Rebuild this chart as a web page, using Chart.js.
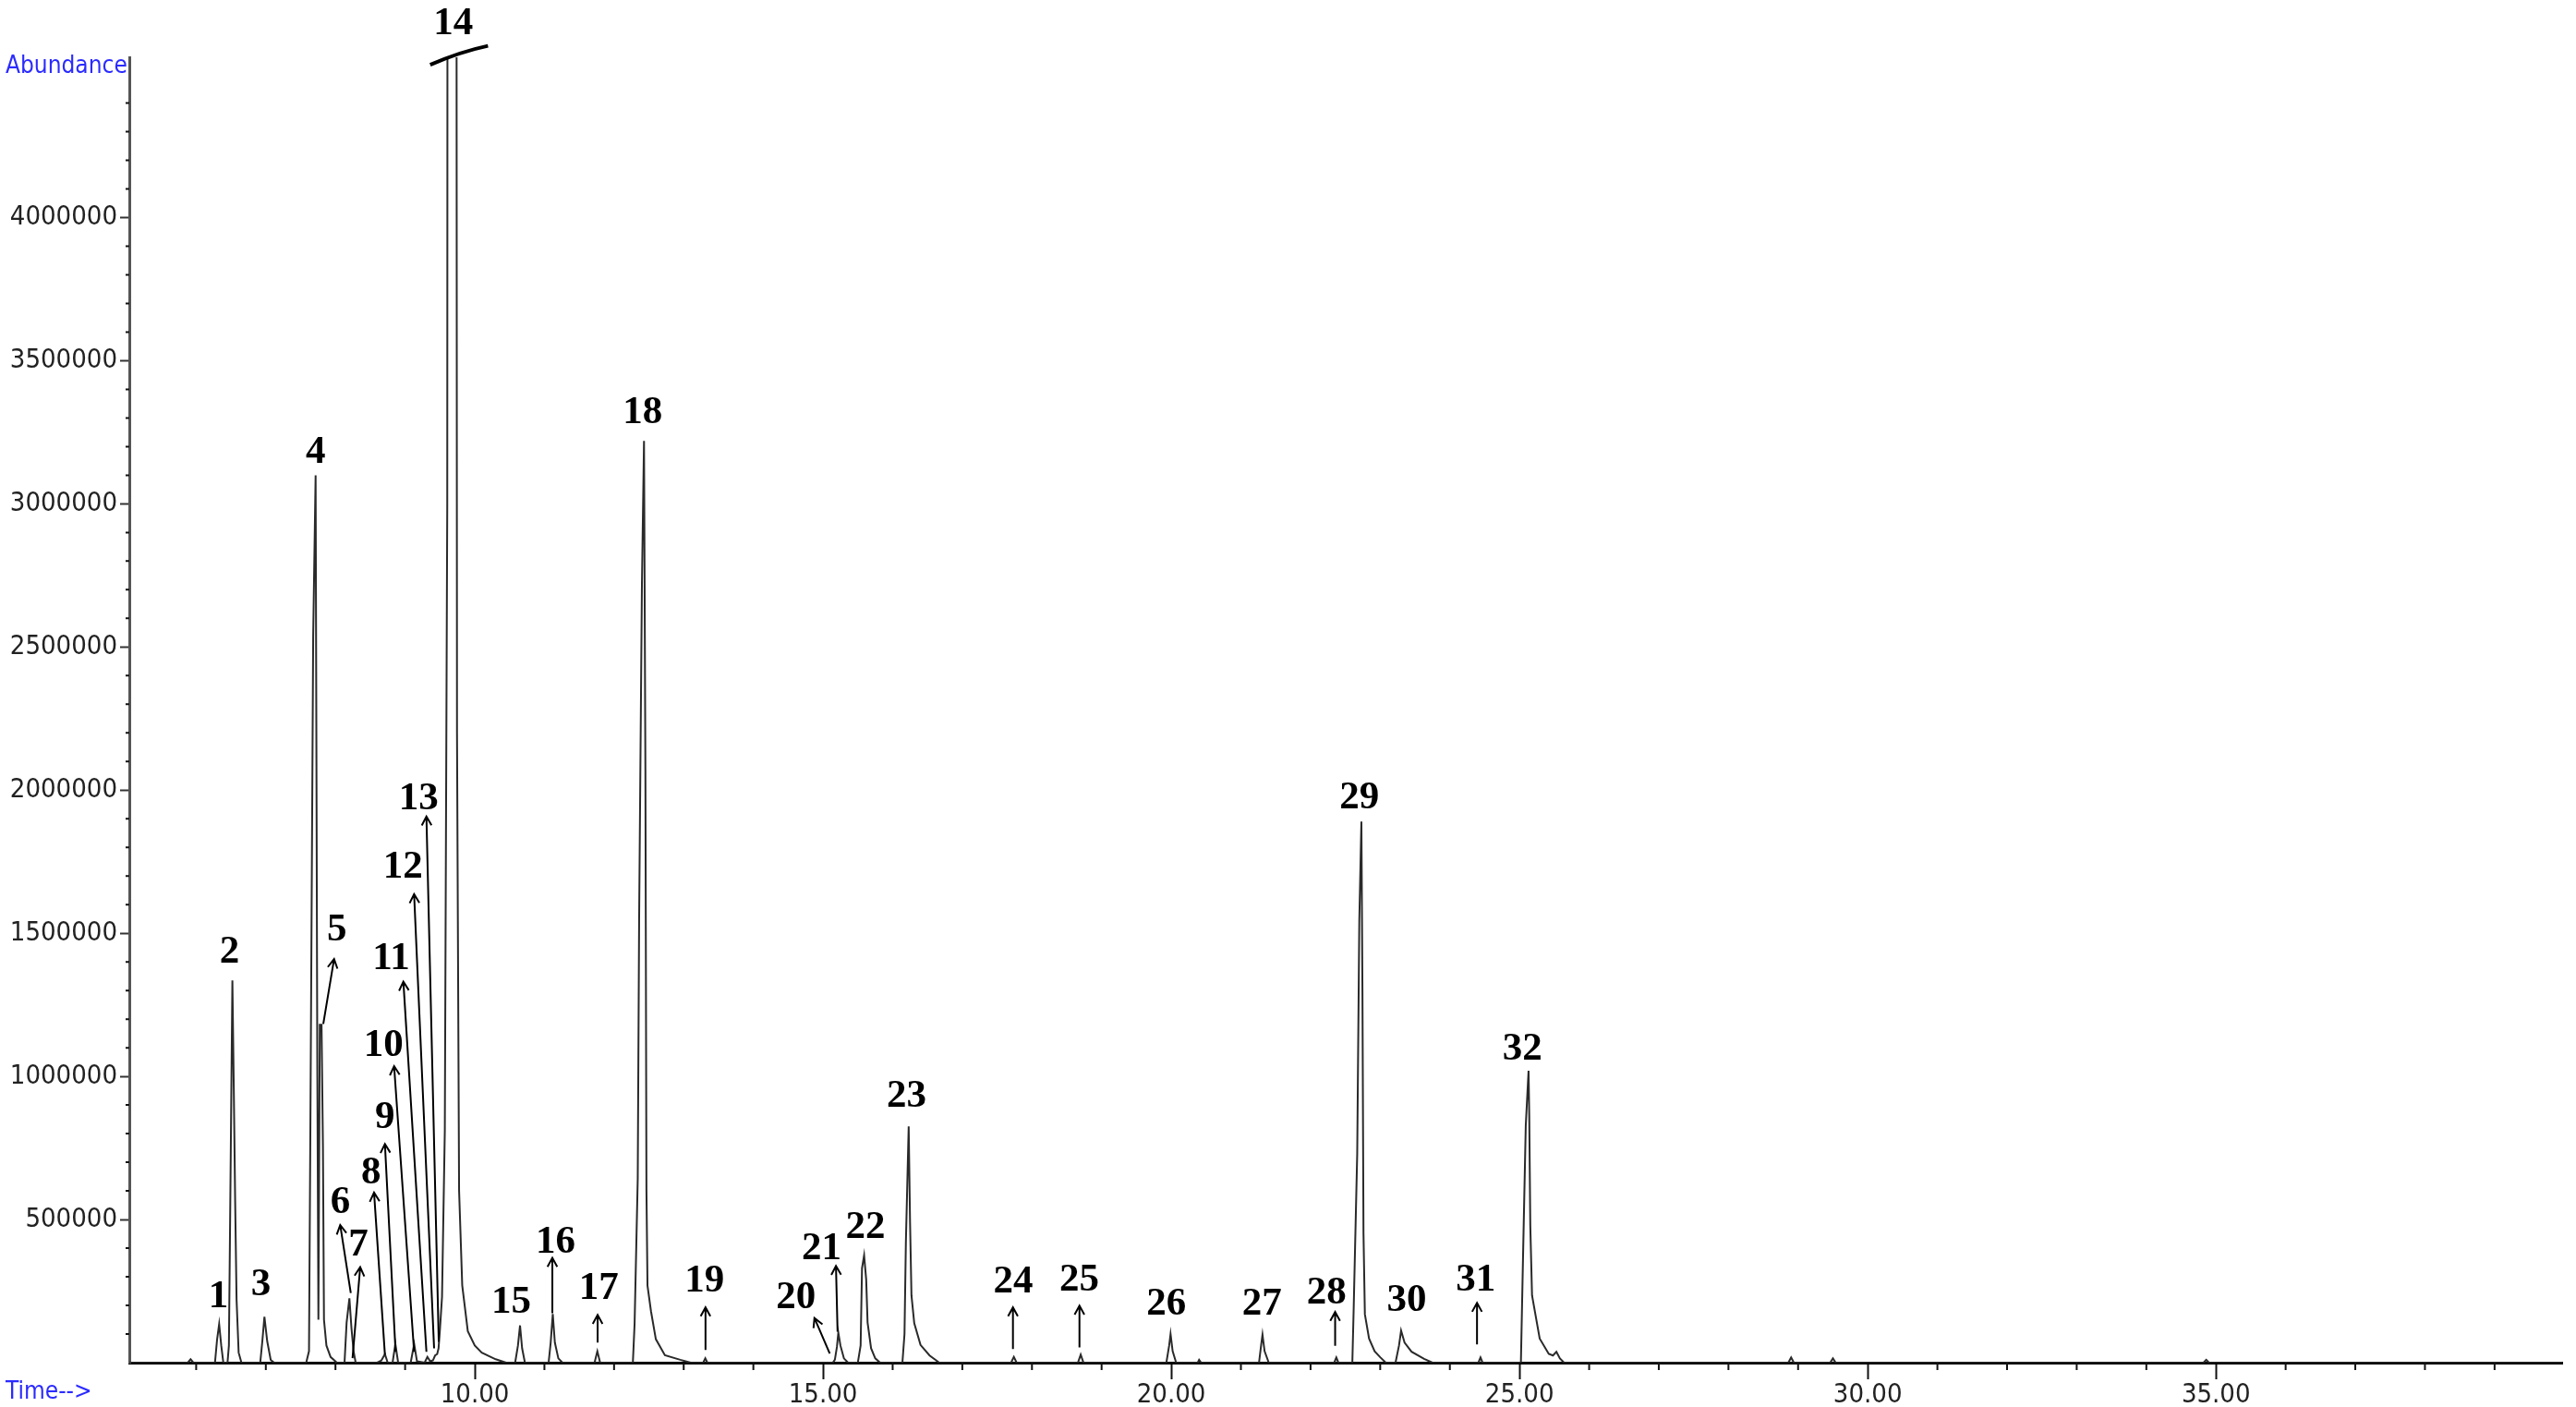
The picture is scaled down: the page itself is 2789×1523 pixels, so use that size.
<!DOCTYPE html>
<html>
<head>
<meta charset="utf-8">
<title>TIC chromatogram</title>
<script src="https://cdn.jsdelivr.net/npm/chart.js@4.4.1/dist/chart.umd.min.js"></script>
<style>
  html, body { margin: 0; padding: 0; background: #fff; }
  canvas { display: block; }
</style>
</head>
<body>
<canvas id="tic" width="2789" height="1523"></canvas>
<script>
const times = [
  5.04, 5.88, 5.92, 5.96,
  6.27, 6.30, 6.33, 6.36, 6.39,
  6.45, 6.47, 6.49, 6.52, 6.54, 6.56, 6.58, 6.61, 6.65,
  6.92, 6.95, 6.98, 7.02, 7.07, 7.12,
  7.58, 7.62, 7.64, 7.68, 7.715, 7.74, 7.755, 7.775, 7.80, 7.82, 7.835, 7.87, 7.93, 8.02,
  8.13, 8.16, 8.20, 8.23, 8.26, 8.29,
  8.60, 8.66, 8.71, 8.75,
  8.82, 8.86, 8.90,
  9.08, 9.13, 9.17,
  9.28, 9.32, 9.36, 9.40, 9.43, 9.46, 9.48, 9.50, 9.53, 9.57, 9.605, 9.62, 9.67, 9.72, 9.745, 9.775, 9.82, 9.90, 10.00, 10.10, 10.30, 10.45,
  10.58, 10.62, 10.65, 10.68, 10.72,
  11.06, 11.09, 11.12, 11.15, 11.20, 11.26,
  11.72, 11.76, 11.80,
  12.27, 12.295, 12.34, 12.36, 12.40, 12.43, 12.45, 12.465, 12.48, 12.53, 12.60, 12.73, 12.95, 13.10,
  13.28, 13.31, 13.34,
  15.14, 15.17, 15.20, 15.22, 15.25, 15.30, 15.36,
  15.50, 15.54, 15.56, 15.59, 15.62, 15.64, 15.69, 15.75, 15.82,
  16.14, 16.17, 16.19, 16.23, 16.25, 16.27, 16.31, 16.40, 16.53, 16.67,
  17.70, 17.74, 17.78,
  18.66, 18.70, 18.74,
  19.93, 19.97, 19.99, 20.02, 20.07,
  20.38, 20.40, 20.43,
  21.26, 21.29, 21.31, 21.34, 21.40,
  22.34, 22.37, 22.40,
  22.60, 22.62, 22.67, 22.70, 22.73, 22.745, 22.76, 22.78, 22.84, 22.92, 23.00, 23.08,
  23.22, 23.27, 23.30, 23.35, 23.45, 23.63, 23.75,
  24.41, 24.44, 24.47,
  25.02, 25.05, 25.09, 25.13, 25.14, 25.155, 25.18, 25.29, 25.42, 25.48, 25.53, 25.58, 25.64,
  28.86, 28.90, 28.94,
  29.46, 29.50, 29.54,
  34.82, 34.86, 34.90,
  39.97
];
const abundance = [
  0, 0, 12000, 0,
  0, 80000, 135000, 60000, 0,
  0, 60000, 560000, 1335000, 960000, 560000, 220000, 35000, 0,
  0, 75000, 160000, 75000, 10000, 0,
  0, 40000, 830000, 2540000, 3100000, 1000000, 150000, 1180000, 1180000, 760000, 150000, 60000, 20000, 0,
  0, 140000, 225000, 120000, 40000, 0,
  0, 8000, 30000, 0,
  0, 65000, 0,
  0, 65000, 5000,
  0, 20000, 5000, 8000, 25000, 30000, 50000, 116000, 230000, 810000, 3000000, 12000000, 14000000, 12000000, 2200000, 600000, 270000, 110000, 60000, 35000, 12000, 0,
  0, 60000, 130000, 50000, 0,
  0, 70000, 170000, 70000, 15000, 0,
  0, 40000, 0,
  0, 137000, 643000, 1557000, 2720000, 3220000, 2070000, 600000, 269000, 180000, 82000, 26000, 10000, 0,
  0, 15000, 0,
  0, 10000, 55000, 105000, 60000, 15000, 0,
  0, 60000, 330000, 375000, 290000, 140000, 50000, 15000, 0,
  0, 100000, 423000, 825000, 487000, 235000, 138000, 62000, 25000, 0,
  0, 20000, 0,
  0, 28000, 0,
  0, 60000, 100000, 40000, 0,
  0, 10000, 0,
  0, 60000, 98000, 40000, 0,
  0, 18000, 0,
  0, 197000, 730000, 1545000, 1890000, 1300000, 453000, 169000, 84000, 40000, 19000, 0,
  0, 60000, 112000, 70000, 38000, 13000, 0,
  0, 18000, 0,
  0, 361000, 829000, 1020000, 861000, 479000, 235000, 84000, 31000, 25000, 38000, 15000, 0,
  0, 18000, 0,
  0, 15000, 0,
  0, 10000, 0,
  0
];

const xTicks = [10, 15, 20, 25, 30, 35];
const yTicks = [500000, 1000000, 1500000, 2000000, 2500000, 3000000, 3500000, 4000000];

// peak numbers and where their labels sit (time, abundance)
const peakNames = ['1', '2', '3', '4', '5', '6', '7', '8', '9', '10', '11', '12', '13', '14', '15', '16',
                   '17', '18', '19', '20', '21', '22', '23', '24', '25', '26', '27', '28', '29', '30', '31', '32'];
const labelTimes = [6.32, 6.48, 6.93, 7.715, 8.02, 8.07, 8.33, 8.51, 8.71, 8.69, 8.80, 8.97, 9.195, 9.69, 10.525, 11.16,
                    11.78, 12.41, 13.30, 14.61, 14.98, 15.61, 16.20, 17.73, 18.68, 19.93, 21.30, 22.23, 22.70, 23.38, 24.37, 25.04];
const labelLevels = [231000, 1433000, 270000, 3178000, 1512000, 560000, 410000, 662000, 855000, 1108000, 1412000, 1730000, 1968000, 4676000, 209000, 420000,
                     258000, 3318000, 283000, 227000, 397000, 470000, 930000, 280000, 287000, 205000, 204000, 244000, 1972000, 216000, 287000, 1094000];

// arrows from the peak (tail) to just under the number (head)
const arrowTailTimes = [7.825, 8.22, 8.245, 8.71, 8.863, 9.129, 9.306, 9.416, 9.483, 11.114, 11.764, 13.313, 15.097, 15.209, 17.727, 18.682, 22.353, 24.39];
const arrowTailLevels = [1183000, 243000, 16000, 28000, 38000, 38000, 38000, 50000, 73000, 173000, 70000, 44000, 32000, 108000, 48000, 53000, 59000, 64000];
const arrowHeadTimes = [7.98, 8.068, 8.355, 8.554, 8.71, 8.842, 8.975, 9.129, 9.306, 11.114, 11.764, 13.313, 14.877, 15.186, 17.727, 18.682, 22.353, 24.39];
const arrowHeadLevels = [1410000, 481000, 334000, 594000, 764000, 1036000, 1331000, 1637000, 1908000, 366000, 167000, 193000, 156000, 338000, 193000, 199000, 177000, 209000];

const narrow = '"Liberation Sans Narrow", "DejaVu Sans Condensed", "Arial Narrow", sans-serif';

const decorations = {
  id: 'decorations',
  afterDraw(chart) {
    const ctx = chart.ctx;
    const xs = chart.scales.x;
    const ys = chart.scales.y;
    const area = chart.chartArea;
    ctx.save();

    // minor ticks on both axes
    ctx.strokeStyle = '#111';
    ctx.lineWidth = 2;
    ctx.beginPath();
    for (let t = 6; t <= 39; t++) {
      if (t % 5 === 0) continue;
      const px = xs.getPixelForValue(t);
      ctx.moveTo(px, area.bottom);
      ctx.lineTo(px, area.bottom + 8);
    }
    for (let v = 100000; v <= 4400000; v += 100000) {
      if (v % 500000 === 0) continue;
      const py = ys.getPixelForValue(v);
      ctx.moveTo(area.left - 4, py);
      ctx.lineTo(area.left, py);
    }
    ctx.stroke();

    // axis titles
    ctx.fillStyle = '#2b2bff';
    ctx.font = '26px ' + narrow;
    ctx.textAlign = 'left';
    ctx.textBaseline = 'middle';
    ctx.fillText('Abundance', 6, area.top + 10);
    ctx.fillText('Time-->', 6, area.bottom + 32);

    // arrows
    ctx.strokeStyle = '#000';
    ctx.lineWidth = 2;
    for (let i = 0; i < arrowTailTimes.length; i++) {
      const x0 = xs.getPixelForValue(arrowTailTimes[i]);
      const y0 = ys.getPixelForValue(arrowTailLevels[i]);
      const x1 = xs.getPixelForValue(arrowHeadTimes[i]);
      const y1 = ys.getPixelForValue(arrowHeadLevels[i]);
      const ang = Math.atan2(y1 - y0, x1 - x0);
      ctx.beginPath();
      ctx.moveTo(x0, y0);
      ctx.lineTo(x1, y1);
      ctx.moveTo(x1 - 11 * Math.cos(ang - 0.5), y1 - 11 * Math.sin(ang - 0.5));
      ctx.lineTo(x1, y1);
      ctx.lineTo(x1 - 11 * Math.cos(ang + 0.5), y1 - 11 * Math.sin(ang + 0.5));
      ctx.stroke();
    }

    // break mark over the off-scale peak 14
    ctx.lineWidth = 4;
    ctx.beginPath();
    ctx.moveTo(xs.getPixelForValue(9.36), ys.getPixelForValue(4534000));
    ctx.quadraticCurveTo(xs.getPixelForValue(9.8), ys.getPixelForValue(4580000),
                         xs.getPixelForValue(10.19), ys.getPixelForValue(4600000));
    ctx.stroke();

    // peak numbers
    ctx.fillStyle = '#000';
    ctx.font = 'bold 43px "Liberation Serif", "Times New Roman", serif';
    ctx.textAlign = 'center';
    ctx.textBaseline = 'middle';
    peakNames.forEach((name, i) => {
      ctx.fillText(name, xs.getPixelForValue(labelTimes[i]), ys.getPixelForValue(labelLevels[i]));
    });
    ctx.restore();
  }
};

new Chart(document.getElementById('tic'), {
  type: 'line',
  data: {
    datasets: [{
      data: times.map((t, i) => ({ x: t, y: abundance[i] })),
      borderColor: '#2a2a2a',
      borderWidth: 2,
      pointRadius: 0,
      tension: 0,
      fill: false
    }]
  },
  options: {
    responsive: false,
    animation: false,
    layout: { padding: { top: 62, right: 15, left: 0, bottom: 0 } },
    plugins: {
      legend: { display: false },
      tooltip: { enabled: false }
    },
    scales: {
      x: {
        type: 'linear',
        min: 5.04,
        max: 39.97,
        afterBuildTicks: s => { s.ticks = xTicks.map(v => ({ value: v })); },
        afterFit: s => { s.height = 48; },
        grid: { drawOnChartArea: false, tickLength: 18, tickColor: '#111', tickWidth: 2 },
        border: { color: '#000', width: 3 },
        ticks: {
          callback: v => Number(v).toFixed(2),
          font: { family: narrow, size: 29 },
          color: '#222',
          padding: 0,
          maxRotation: 0,
          autoSkip: false
        }
      },
      y: {
        min: 0,
        max: 4560000,
        afterBuildTicks: s => { s.ticks = yTicks.map(v => ({ value: v })); },
        afterFit: s => { s.width = 140; },
        grid: { drawOnChartArea: false, tickLength: 10, tickColor: '#333', tickWidth: 2 },
        border: { color: '#555', width: 3 },
        ticks: {
          callback: v => String(v),
          font: { family: narrow, size: 29 },
          color: '#222',
          padding: 3,
          autoSkip: false
        }
      }
    }
  },
  plugins: [decorations]
});
</script>
</body>
</html>
